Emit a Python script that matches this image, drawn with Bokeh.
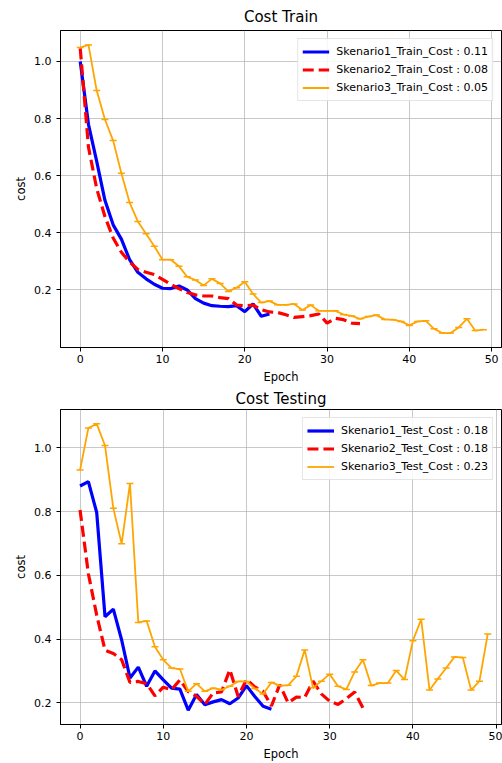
from bokeh.plotting import figure
from bokeh.layouts import column
from bokeh.models import FixedTicker, Range1d, NumeralTickFormatter
from bokeh.embed import file_html
from bokeh.resources import INLINE

# ---------------- data ----------------
train_s1 = [1.0, 0.78, 0.65, 0.514, 0.428, 0.378, 0.306, 0.262, 0.239, 0.220,
            0.206, 0.205, 0.214, 0.200, 0.170, 0.154, 0.145, 0.143, 0.142, 0.145,
            0.124, 0.151, 0.108, 0.116]
train_s2 = [1.046, 0.70, 0.555, 0.457, 0.382, 0.332, 0.298, 0.272, 0.262, 0.254,
            0.237, 0.220, 0.205, 0.191, 0.183, 0.179, 0.179, 0.173, 0.170, 0.147,
            0.145, 0.147, 0.131, 0.123, 0.121, 0.113, 0.104, 0.107, 0.110, 0.116,
            0.084, 0.101, 0.096, 0.084, 0.082]
train_s3 = [1.049, 1.058, 0.898, 0.797, 0.723, 0.609, 0.506, 0.440, 0.397, 0.353,
            0.306, 0.306, 0.283, 0.246, 0.235, 0.216, 0.239, 0.223, 0.195, 0.208,
            0.229, 0.186, 0.156, 0.161, 0.148, 0.148, 0.151, 0.130, 0.147, 0.127,
            0.127, 0.127, 0.114, 0.109, 0.099, 0.107, 0.112, 0.097, 0.096, 0.090,
            0.076, 0.090, 0.092, 0.064, 0.049, 0.049, 0.069, 0.099, 0.058, 0.061]

test_s1 = [0.880, 0.894, 0.797, 0.470, 0.494, 0.397, 0.278, 0.312, 0.252, 0.300,
           0.272, 0.246, 0.243, 0.177, 0.226, 0.194, 0.203, 0.210, 0.197, 0.215,
           0.254, 0.220, 0.189, 0.180]
test_s2 = [0.805, 0.605, 0.475, 0.365, 0.355, 0.335, 0.264, 0.267, 0.260, 0.222,
           0.249, 0.241, 0.272, 0.235, 0.220, 0.195, 0.231, 0.234, 0.304, 0.220,
           0.273, 0.250, 0.236, 0.190, 0.257, 0.200, 0.218, 0.217, 0.268, 0.228,
           0.205, 0.195, 0.213, 0.234, 0.184]
test_s3 = [0.930, 1.062, 1.075, 1.007, 0.810, 0.699, 0.888, 0.452, 0.457, 0.376,
           0.335, 0.309, 0.306, 0.236, 0.260, 0.236, 0.246, 0.241, 0.252, 0.267,
           0.267, 0.245, 0.228, 0.264, 0.254, 0.255, 0.283, 0.366, 0.247, 0.268,
           0.290, 0.252, 0.242, 0.297, 0.335, 0.254, 0.262, 0.262, 0.301, 0.273,
           0.395, 0.462, 0.240, 0.275, 0.309, 0.344, 0.342, 0.240, 0.268, 0.416]

train_labels = ["Skenario1_Train_Cost : 0.11", "Skenario2_Train_Cost : 0.08",
                "Skenario3_Train_Cost : 0.05"]
test_labels = ["Skenario1_Test_Cost : 0.18", "Skenario2_Test_Cost : 0.18",
               "Skenario3_Test_Cost : 0.23"]
x_ticks = [0, 10, 20, 30, 40, 50]
y_ticks = [0.2, 0.4, 0.6, 0.8, 1.0]

FONT = "DejaVu Sans"
BLUE, RED, ORANGE = "#0000ff", "#ff0000", "#ffa500"


def make_fig(title, s1, s2, s3, labels, xr, yr, height, border_top, border_bottom,
             title_standoff):
    p = figure(width=502, height=height, output_backend="svg", toolbar_location=None,
               x_range=Range1d(*xr), y_range=Range1d(*yr),
               min_border_left=60, min_border_right=1,
               min_border_top=border_top, min_border_bottom=border_bottom,
               title=title)
    p.background_fill_color = "white"
    p.border_fill_color = "white"
    p.outline_line_color = "black"
    p.outline_line_width = 1

    p.title.text_font = FONT
    p.title.text_font_size = "15px"
    p.title.text_font_style = "normal"
    p.title.align = "center"
    p.title.standoff = title_standoff
    p.title.text_color = "black"

    p.xaxis.ticker = FixedTicker(ticks=x_ticks)
    p.yaxis.ticker = FixedTicker(ticks=y_ticks)
    p.yaxis.formatter = NumeralTickFormatter(format="0.0")
    p.xaxis.axis_label = "Epoch"
    p.yaxis.axis_label = "cost"
    for ax in (p.xaxis, p.yaxis):
        ax.axis_line_color = "black"
        ax.major_tick_line_color = "black"
        ax.major_tick_out = 4
        ax.major_tick_in = 0
        ax.minor_tick_line_color = None
        ax.major_label_text_font = FONT
        ax.major_label_text_font_size = "11px"
        ax.major_label_text_color = "black"
        ax.axis_label_text_font = FONT
        ax.axis_label_text_font_size = "11.5px"
        ax.axis_label_text_font_style = "normal"
        ax.axis_label_text_color = "black"
    p.xaxis.major_label_standoff = 3
    p.xaxis.axis_label_standoff = 4
    p.yaxis.major_label_standoff = 5
    p.yaxis.axis_label_standoff = 3

    p.grid.grid_line_color = "#b0b0b0"
    p.grid.grid_line_alpha = 0.7
    p.grid.grid_line_width = 1

    p.line(list(range(len(s1))), s1, line_color=BLUE, line_width=3.2, legend_label=labels[0])
    p.line(list(range(len(s2))), s2, line_color=RED, line_width=3.2, line_dash="11 5",
           legend_label=labels[1])
    x3 = list(range(len(s3)))
    p.line(x3, s3, line_color=ORANGE, line_width=1.8, legend_label=labels[2])
    p.scatter(x3, s3, marker="dash", size=7, line_color=ORANGE, line_width=1.5)

    lg = p.legend[0]
    lg.location = "top_right"
    lg.margin = 8
    lg.padding = 4
    lg.spacing = 1
    lg.label_height = 17
    lg.glyph_height = 17
    lg.glyph_width = 27
    lg.label_standoff = 7
    lg.label_text_font = FONT
    lg.label_text_font_size = "11px"
    lg.label_text_color = "black"
    lg.border_line_color = "#cccccc"
    lg.border_line_width = 1
    lg.background_fill_alpha = 0.85
    return p


p1 = make_fig("Cost Train", train_s1, train_s2, train_s3, train_labels,
              (-2.4, 51.2), (-0.0014, 1.1085), 386, 29, 38, 10)
p2 = make_fig("Cost Testing", test_s1, test_s2, test_s3, test_labels,
              (-2.35, 50.65), (0.132, 1.12), 377, 22, 37, 3)

layout = column(p1, p2, spacing=0)
open("out.html", "w").write(file_html(layout, INLINE))
